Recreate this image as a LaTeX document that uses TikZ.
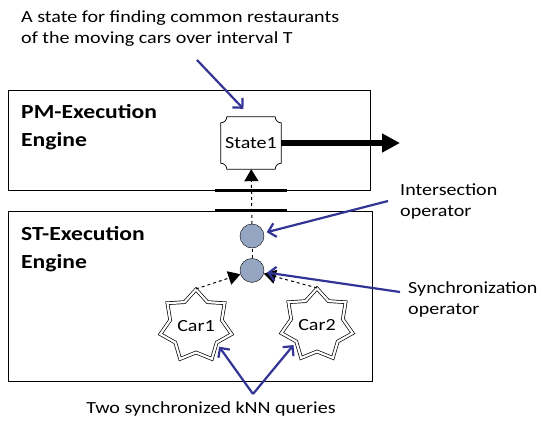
\documentclass[tikz,border=0pt]{standalone}
\usepackage{fontspec}
\setmainfont{Carlito}[FakeStretch=1.18]
\usetikzlibrary{arrows.meta,positioning,calc,shapes.geometric}
\definecolor{PointerBlue}{RGB}{50,52,150}
\definecolor{OpGray}{RGB}{150,166,194}
\newcommand{\txt}{\fontsize{17}{21}\selectfont}
\newcommand{\ttl}{\fontsize{20}{28}\selectfont\bfseries}
% outline with concave corners round a node: #1 node, #2 radius
\newcommand{\notchbox}[2]{%
  \draw[line width=0.7pt] ($(#1.north west)+(#2,0)$) -- ($(#1.north east)+(-#2,0)$)
    arc[start angle=180, end angle=90, radius=#2] -- ($(#1.south east)+(0,-#2)$)
    arc[start angle=270, end angle=180, radius=#2] -- ($(#1.south west)+(#2,0)$)
    arc[start angle=360, end angle=270, radius=#2] -- ($(#1.north west)+(0,#2)$)
    arc[start angle=90, end angle=0, radius=#2] -- cycle;}

\begin{document}
\begin{tikzpicture}[x=1pt, y=-1pt,
    engine/.style={draw, line width=0.9pt, inner sep=0pt},
    title/.style={anchor=north west, align=left, inner sep=0pt, font=\ttl},
    lbl/.style={anchor=north west, align=left, inner sep=0pt, font=\txt},
    op/.style={circle, draw, fill=OpGray, minimum size=24pt, inner sep=0pt},
    car/.style={star, star points=7, star point ratio=1.38, draw, double, double distance=2.2pt, line width=0.7pt, minimum size=62pt, inner sep=0pt, font=\txt},
    dep/.style={-{Triangle[length=12pt,width=14pt]}, dashed, line width=1pt},
    bar/.style={line width=3pt},
    pointer/.style={-{Straight Barb[length=7pt,width=14pt]}, line width=2.2pt, PointerBlue},
    node distance=10pt
  ]
  \useasboundingbox (0,0) rectangle (542,421);

  % Engines
  \node[engine, minimum width=362pt, minimum height=100pt] (pm) at (189,140) {};
  \node[title] (pmt) at (21,104) {PM-Execution\\Engine};
  \node[engine, minimum width=364pt, minimum height=170pt] (st) at (190,296) {};
  \node[title] (stt) at (21,226) {ST-Execution\\Engine};

  % State and output
  \node[font=\txt, minimum width=60pt, minimum height=52pt, inner sep=0pt] (state1) at (251,143) {State1};
  \notchbox{state1}{6}
  \coordinate (out) at (400,143);
  \draw[line width=6pt, -{Triangle[length=18pt,width=18pt]}] (state1) -- (out);

  % Bars between engines
  \draw[bar] ($(state1.south |- pm.south)+(-36,0)$) -- ++(72,0);
  \draw[bar] ($(state1.south |- st.north)+(-36,0)$) -- ++(72,0);

  % Operators
  \node[op] (inter) at (252,236) {};
  \node[op, below=of inter] (sync) {};

  % Queries
  \node[car] (car1) at (196,326) {Car1};
  \node[car] (car2) at (317,325) {Car2};

  \draw[dep] (inter) -- (state1);
  \draw[dashed, line width=1pt] (sync) -- (inter);
  \draw[dep] (car1.north) -- (sync);
  \draw[dep] (car2.north) -- (sync);

  % Labels
  \node[lbl] (note) at (21,10) {A state for finding common restaurants\\of the moving cars over interval T};
  \node[lbl] (ilbl) at (400,184) {Intersection\\operator};
  \node[lbl] (slbl) at (408,281) {Synchronization\\operator};
  \node[lbl, anchor=north] (qlbl) at (211,401) {Two synchronized kNN queries};

  % Pointers
  \coordinate (p0) at (197,60);
  \coordinate (p1) at (388,201);
  \coordinate (p2) at (400,292);
  \coordinate (p3) at (253,394);
  \draw[pointer, shorten >=11pt] (p0) -- (state1.north);
  \draw[pointer, shorten >=3pt] (p1) -- (inter);
  \draw[pointer, shorten >=3pt] (p2) -- (sync);
  \draw[pointer, shorten >=4pt] (p3) -- (car1.-40);
  \draw[pointer, shorten >=4pt] (p3) -- (car2.-141);
\end{tikzpicture}
\end{document}
